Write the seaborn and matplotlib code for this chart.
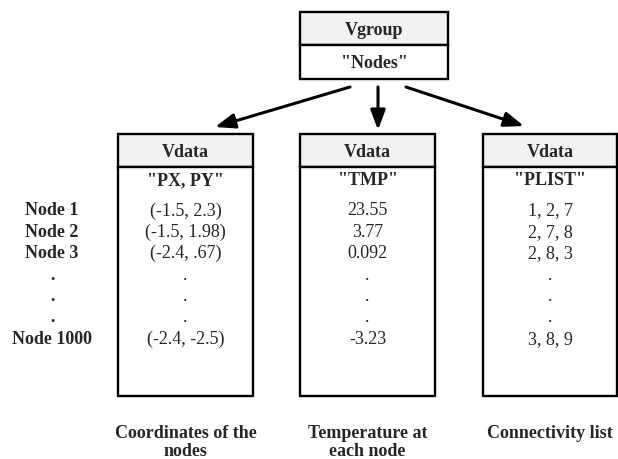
import matplotlib
matplotlib.use("Agg")
import matplotlib.pyplot as plt
import seaborn as sns
from matplotlib.patches import Rectangle

sns.set_style("white")
plt.rcParams['font.family'] = ['Liberation Serif', 'DejaVu Serif']

# ---------------------------
# data
# ---------------------------
group_title = "Vgroup"
group_name = '"Nodes"'

vdata_titles = ["Vdata", "Vdata", "Vdata"]
vdata_names = ['"PX, PY"', '"TMP"', '"PLIST"']

node_labels = ["Node 1", "Node 2", "Node 3", ".", ".", ".", "Node 1000"]
coords = ["(-1.5, 2.3)", "(-1.5, 1.98)", "(-2.4, .67)", ".", ".", ".", "(-2.4, -2.5)"]
temps = ["23.55", "3.77", "0.092", ".", ".", ".", "-3.23"]
plist = ["1, 2, 7", "2, 7, 8", "2, 8, 3", ".", ".", ".", "3, 8, 9"]

captions = ["Coordinates of the\nnodes", "Temperature at\neach node", "Connectivity list"]

columns = [coords, temps, plist]

# ---------------------------
# layout (pixels)
# ---------------------------
fig = plt.figure(figsize=(6.18, 4.6), dpi=100)
ax = fig.add_axes([0, 0, 1, 1])
ax.set_xlim(0, 618)
ax.set_ylim(460, 0)
ax.axis("off")

lw = 1.7
fs = 13
head_fill = "#f2f2f2"


def draw_box(x0, x1, top, mid, bottom, title):
    ax.add_patch(Rectangle((x0, top), x1 - x0, mid - top, facecolor=head_fill,
                           edgecolor="black", lw=lw))
    ax.add_patch(Rectangle((x0, mid), x1 - x0, bottom - mid, facecolor="white",
                           edgecolor="black", lw=lw))
    cx = (x0 + x1) / 2
    ax.text(cx, (top + mid) / 2 + 1, title, ha="center", va="center",
            fontsize=fs, fontweight="bold")
    return cx


# Vgroup box
draw_box(300, 448, 13, 46, 80, group_title)
ax.text(374, 63, group_name, ha="center", va="center", fontsize=fs, fontweight="bold")

# arrows
arrow_kw = dict(arrowstyle="-|>,head_length=1.2,head_width=0.45", color="black", lw=2.2,
                shrinkA=0, shrinkB=0)
ax.annotate("", xy=(215, 128), xytext=(350, 88), arrowprops=arrow_kw)
ax.annotate("", xy=(378, 131), xytext=(378, 88), arrowprops=arrow_kw)
ax.annotate("", xy=(524, 127), xytext=(406, 88), arrowprops=arrow_kw)

# Vdata boxes
box_x = [(118, 253), (300, 435), (483, 617)]
row_y = [211 + 21.4 * i for i in range(len(node_labels))]

for (x0, x1), title, name, vals, cap in zip(box_x, vdata_titles, vdata_names, columns, captions):
    cx = draw_box(x0, x1, 135, 168, 397, title)
    ax.text(cx, 181, name, ha="center", va="center", fontsize=fs, fontweight="bold")
    for y, v in zip(row_y, vals):
        ax.text(cx, y, v, ha="center", va="center", fontsize=fs)
    ax.text(cx, 425, cap, ha="center", va="top", fontsize=fs,
            fontweight="bold", linespacing=1.05)

for y, lab in zip(row_y, node_labels):
    ax.text(52, y, lab, ha="center", va="center", fontsize=fs, fontweight="bold")

plt.savefig("out.png", dpi=100)
